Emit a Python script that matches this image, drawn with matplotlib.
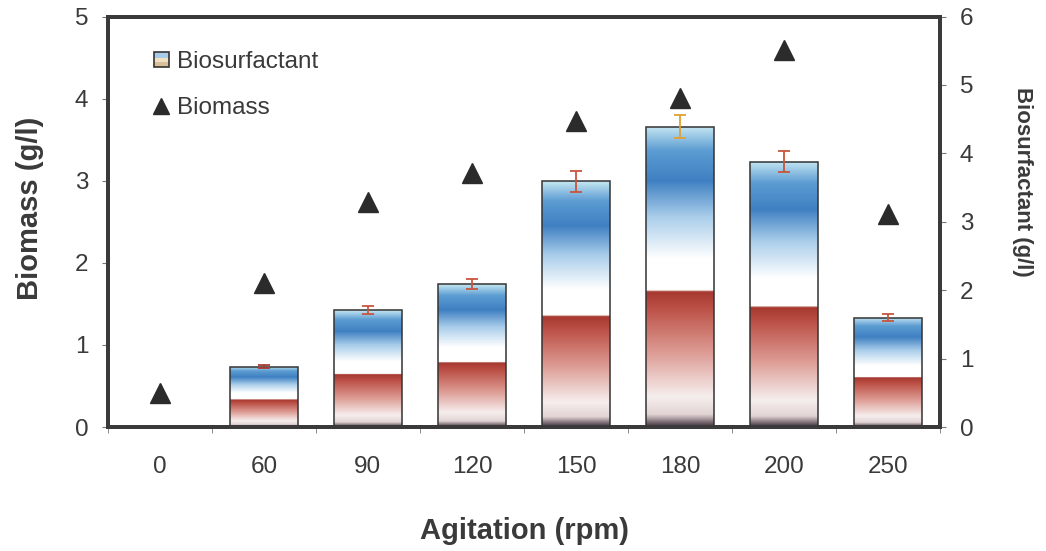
import numpy as np
import matplotlib
matplotlib.use("Agg")
import matplotlib.pyplot as plt
from matplotlib.colors import LinearSegmentedColormap
from matplotlib.patches import Patch, Rectangle
from matplotlib.lines import Line2D
from matplotlib.legend_handler import HandlerBase

plt.rcParams['font.family'] = ['Liberation Sans', 'DejaVu Sans']

# data
agitation = ['0', '60', '90', '120', '150', '180', '200', '250']
biosurfactant = [0.0, 0.88, 1.71, 2.09, 3.59, 4.39, 3.88, 1.60]
biosurf_err = [0.0, 0.02, 0.06, 0.07, 0.15, 0.17, 0.15, 0.05]
err_colors = ['#c8553d', '#a83a30', '#c8553d', '#c8553d', '#c8553d', '#e0a030', '#c8553d', '#c8553d']
biomass = [0.42, 1.76, 2.74, 3.10, 3.73, 4.01, 4.59, 2.59]

# bar gradient, bottom -> top
grad = LinearSegmentedColormap.from_list('bar', [
    (0.00, '#3e2f3c'),
    (0.04, '#e2d4d4'),
    (0.10, '#f6eeee'),
    (0.25, '#dc9a92'),
    (0.40, '#bb4e44'),
    (0.45, '#a5382f'),
    (0.455, '#ffffff'),
    (0.56, '#ffffff'),
    (0.70, '#a9cdea'),
    (0.82, '#3f80c2'),
    (0.92, '#5c9cd2'),
    (1.00, '#c4e6f2'),
])


class GradientBoxHandler(HandlerBase):
    # small square legend key with banded fill
    def create_artists(self, legend, orig_handle, xdescent, ydescent, width, height, fontsize, trans):
        s = height * 0.9
        x0 = -xdescent + (width - s) / 2
        y0 = -ydescent + (height - s) / 2
        bands = [('#d8c098', 0.0, 0.3), ('#f0e0c0', 0.3, 0.6), ('#a8cce8', 0.6, 1.0)]
        arts = []
        for c, a, b in bands:
            arts.append(Rectangle((x0, y0 + a * s), s, (b - a) * s, facecolor=c,
                                  edgecolor='none', transform=trans))
        arts.append(Rectangle((x0, y0), s, s, facecolor='none', edgecolor='#333333',
                              linewidth=1.2, transform=trans))
        return arts


x = np.arange(len(agitation))
w = 0.65
edge = '#333333'

fig = plt.figure(figsize=(10.46, 5.51), dpi=100)
ax1 = fig.add_axes([0.103, 0.225, 0.796, 0.745])
ax2 = ax1.twinx()
ax1.set_zorder(ax2.get_zorder() + 1)
ax1.patch.set_visible(False)

# bars on right axis
bars = ax2.bar(x, biosurfactant, width=w, facecolor='none', edgecolor=edge, linewidth=1.1, zorder=3)
g = np.linspace(0, 1, 256).reshape(-1, 1)
for xi, h, b in zip(x, biosurfactant, bars):
    if h <= 0:
        continue
    im = ax2.imshow(g, cmap=grad, origin='lower', aspect='auto',
                    extent=(xi - w / 2, xi + w / 2, 0, h), zorder=2)
    im.set_clip_path(b)
for xi, h, e, c in zip(x, biosurfactant, biosurf_err, err_colors):
    if h > 0:
        ax2.errorbar(xi, h, yerr=e, color=c, capsize=4, elinewidth=1.3, capthick=1.3, zorder=4)

ax2.set_xlim(-0.5, len(agitation) - 0.5)
ax2.set_ylim(0, 6)
ax2.set_yticks(range(0, 7))

# biomass on left axis
ax1.plot(x, biomass, linestyle='none', marker='^', markersize=14, color='#2b2b2b', zorder=5)
ax1.set_ylim(0, 5)
ax1.set_yticks(range(0, 6))
ax1.set_xlim(-0.5, len(agitation) - 0.5)
ax1.set_xticks(x)
ax1.set_xticklabels(agitation)
ax1.set_xticks(np.arange(-0.5, len(agitation)), minor=True)
ax1.tick_params(axis='x', which='major', length=0, pad=21)
ax1.tick_params(axis='x', which='minor', length=4, color='#777777', direction='out')

for ax in (ax1, ax2):
    for s in ax.spines.values():
        s.set_linewidth(2.8)
        s.set_color('#3a3a3a')
    ax.tick_params(axis='y', length=4, color='#777777', labelsize=17.5, labelcolor='#3a3a3a', pad=10)
ax1.tick_params(axis='x', labelsize=17.5, labelcolor='#3a3a3a')

ax1.set_ylabel('Biomass (g/l)', fontsize=21, fontweight='bold', color='#3a3a3a')
ax1.yaxis.set_label_coords(-0.077, 0.534)
ax2.set_ylabel('Biosurfactant (g/l)', fontsize=16, fontweight='bold', color='#3a3a3a', rotation=-90)
ax2.yaxis.set_label_coords(1.1117, 0.598)
ax1.set_xlabel('Agitation (rpm)', fontsize=21, fontweight='bold', color='#3a3a3a', labelpad=28)

handles = [Patch(label='Biosurfactant'),
           Line2D([], [], linestyle='none', marker='^', markersize=11, color='#2b2b2b', label='Biomass')]
ax1.legend(handles=handles, loc='upper left', bbox_to_anchor=(0.028, 0.97), frameon=False,
           fontsize=17.5, handlelength=0.7, handletextpad=0.3, labelspacing=1.0, labelcolor='#3a3a3a',
           handler_map={Patch: GradientBoxHandler()})

fig.savefig('out.png', dpi=100)
